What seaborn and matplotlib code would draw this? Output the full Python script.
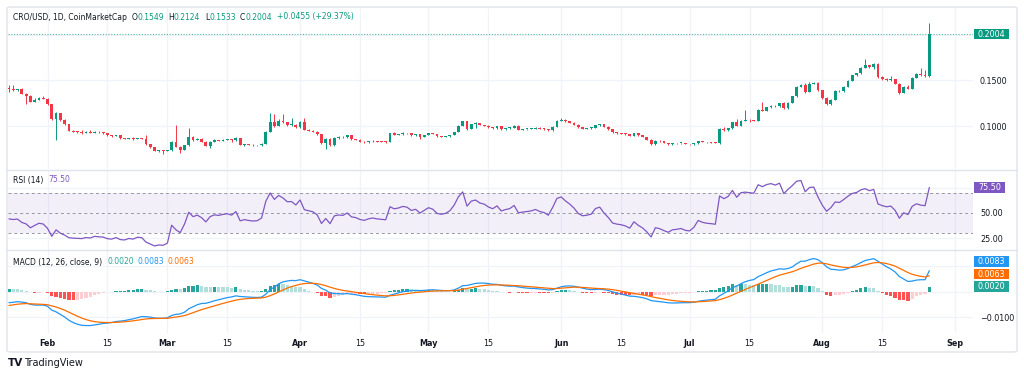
import numpy as np
import pandas as pd
import matplotlib
matplotlib.use("Agg")
import matplotlib.pyplot as plt
from matplotlib.patches import Rectangle, FancyBboxPatch
from matplotlib.lines import Line2D
import seaborn as sns

# CRO/USD daily candles, 23 Jan - 26 Aug 2025
START_DATE = "2025-01-23"
FIRST_OPEN = 0.1410
close = [
    0.1405, 0.1395, 0.1400, 0.1352, 0.1330, 0.1268, 0.1290, 0.1310, 0.1300, 0.1236,
    0.1078, 0.1140, 0.1066, 0.1020, 0.0950, 0.0940, 0.0935, 0.0928, 0.0936, 0.0927,
    0.0938, 0.0930, 0.0925, 0.0897, 0.0890, 0.0898, 0.0866, 0.0860, 0.0867, 0.0858,
    0.0866, 0.0862, 0.0800, 0.0768, 0.0730, 0.0734, 0.0728, 0.0736, 0.0820, 0.0772,
    0.0738, 0.0790, 0.0885, 0.0842, 0.0855, 0.0830, 0.0786, 0.0830, 0.0845, 0.0840,
    0.0848, 0.0853, 0.0842, 0.0868, 0.0792, 0.0800, 0.0793, 0.0788, 0.0790, 0.0805,
    0.0938, 0.1048, 0.1000, 0.1060, 0.1040, 0.1010, 0.1012, 0.0986, 0.1045, 0.0960,
    0.0950, 0.0940, 0.0910, 0.0812, 0.0858, 0.0790, 0.0870, 0.0880, 0.0875, 0.0900,
    0.0858, 0.0850, 0.0829, 0.0820, 0.0832, 0.0838, 0.0830, 0.0826, 0.0823, 0.0920,
    0.0905, 0.0912, 0.0925, 0.0920, 0.0900, 0.0908, 0.0885, 0.0902, 0.0920, 0.0912,
    0.0888, 0.0883, 0.0888, 0.0902, 0.0935, 0.1000, 0.1050, 0.0968, 0.1018, 0.1030,
    0.1011, 0.1004, 0.0986, 0.0975, 0.0997, 0.0965, 0.0975, 0.0982, 0.1004, 0.0960,
    0.0965, 0.0968, 0.0972, 0.0980, 0.0970, 0.0965, 0.0952, 0.0992, 0.1055, 0.1068,
    0.1050, 0.1035, 0.1015, 0.0985, 0.0972, 0.0975, 0.0980, 0.1010, 0.1018, 0.0990,
    0.0965, 0.0930, 0.0922, 0.0918, 0.0910, 0.0895, 0.0920, 0.0898, 0.0880, 0.0850,
    0.0800, 0.0840, 0.0832, 0.0815, 0.0800, 0.0810, 0.0812, 0.0815, 0.0802, 0.0798,
    0.0810, 0.0835, 0.0825, 0.0820, 0.0818, 0.0815, 0.0968, 0.0955, 0.0975, 0.1040,
    0.1005, 0.1058, 0.1065, 0.1062, 0.1060, 0.1178, 0.1168, 0.1205, 0.1222, 0.1215,
    0.1248, 0.1195, 0.1256, 0.1325, 0.1430, 0.1450, 0.1372, 0.1465, 0.1475, 0.1392,
    0.1310, 0.1238, 0.1290, 0.1384, 0.1378, 0.1430, 0.1495, 0.1555, 0.1575, 0.1638,
    0.1668, 0.1650, 0.1680, 0.1535, 0.1515, 0.1502, 0.1512, 0.1465, 0.1362, 0.1432,
    0.1408, 0.1528, 0.1571, 0.1555, 0.1549, 0.2004,
]
high = [
    0.1450, 0.1448, 0.1408, 0.1415, 0.1362, 0.1338, 0.1302, 0.1322, 0.1328, 0.1305,
    0.1240, 0.1152, 0.1146, 0.1072, 0.1025, 0.0958, 0.0948, 0.0955, 0.0945, 0.0952,
    0.0944, 0.0941, 0.0933, 0.0928, 0.0899, 0.0904, 0.0900, 0.0869, 0.0871, 0.0876,
    0.0870, 0.0868, 0.0900, 0.0803, 0.0772, 0.0741, 0.0740, 0.0742, 0.0832, 0.1010,
    0.0778, 0.0796, 0.0975, 0.0890, 0.0866, 0.0870, 0.0836, 0.0840, 0.0853, 0.0851,
    0.0856, 0.0858, 0.0856, 0.0880, 0.0872, 0.0806, 0.0803, 0.0798, 0.0795, 0.0810,
    0.0950, 0.1140, 0.1130, 0.1075, 0.1135, 0.1045, 0.1085, 0.1018, 0.1052, 0.1085,
    0.0965, 0.0955, 0.0944, 0.0915, 0.0872, 0.0868, 0.0876, 0.0886, 0.0888, 0.0906,
    0.0904, 0.0862, 0.0855, 0.0833, 0.0836, 0.0842, 0.0841, 0.0834, 0.0838, 0.0926,
    0.0932, 0.0917, 0.0930, 0.0928, 0.0924, 0.0912, 0.0910, 0.0906, 0.0925, 0.0924,
    0.0914, 0.0891, 0.0892, 0.0906, 0.0940, 0.1008, 0.1058, 0.1055, 0.1024, 0.1040,
    0.1034, 0.1015, 0.1006, 0.0990, 0.1002, 0.1000, 0.0979, 0.0986, 0.1010, 0.1008,
    0.0970, 0.0972, 0.0976, 0.0985, 0.0984, 0.0975, 0.0970, 0.0998, 0.1062, 0.1092,
    0.1072, 0.1054, 0.1040, 0.1020, 0.0990, 0.0980, 0.0984, 0.1015, 0.1022, 0.1021,
    0.0995, 0.0968, 0.0935, 0.0926, 0.0922, 0.0914, 0.0925, 0.0924, 0.0902, 0.0884,
    0.0855, 0.0846, 0.0848, 0.0836, 0.0818, 0.0814, 0.0816, 0.0818, 0.0817, 0.0806,
    0.0813, 0.0840, 0.0838, 0.0828, 0.0823, 0.0821, 0.0975, 0.0988, 0.0982, 0.1046,
    0.1078, 0.1064, 0.1170, 0.1075, 0.1070, 0.1185, 0.1260, 0.1212, 0.1228, 0.1230,
    0.1256, 0.1262, 0.1262, 0.1332, 0.1438, 0.1460, 0.1470, 0.1478, 0.1485, 0.1482,
    0.1398, 0.1315, 0.1298, 0.1392, 0.1395, 0.1436, 0.1502, 0.1562, 0.1582, 0.1645,
    0.1734, 0.1672, 0.1690, 0.1688, 0.1545, 0.1520, 0.1545, 0.1518, 0.1470, 0.1440,
    0.1445, 0.1535, 0.1580, 0.1630, 0.1610, 0.2124,
]
low = [
    0.1370, 0.1385, 0.1388, 0.1345, 0.1245, 0.1262, 0.1258, 0.1285, 0.1292, 0.1230,
    0.1062, 0.0845, 0.1055, 0.1010, 0.0944, 0.0930, 0.0926, 0.0918, 0.0924, 0.0920,
    0.0922, 0.0921, 0.0917, 0.0890, 0.0884, 0.0886, 0.0860, 0.0854, 0.0857, 0.0852,
    0.0855, 0.0857, 0.0795, 0.0760, 0.0724, 0.0721, 0.0690, 0.0724, 0.0730, 0.0766,
    0.0702, 0.0735, 0.0785, 0.0836, 0.0845, 0.0825, 0.0780, 0.0762, 0.0826, 0.0834,
    0.0838, 0.0843, 0.0826, 0.0840, 0.0788, 0.0786, 0.0788, 0.0782, 0.0784, 0.0786,
    0.0800, 0.0932, 0.0990, 0.0995, 0.1030, 0.1002, 0.1000, 0.0980, 0.0982, 0.0955,
    0.0944, 0.0932, 0.0905, 0.0800, 0.0750, 0.0785, 0.0782, 0.0862, 0.0868, 0.0870,
    0.0852, 0.0845, 0.0824, 0.0815, 0.0818, 0.0828, 0.0826, 0.0821, 0.0818, 0.0820,
    0.0900, 0.0898, 0.0906, 0.0915, 0.0896, 0.0895, 0.0858, 0.0880, 0.0898, 0.0908,
    0.0884, 0.0878, 0.0879, 0.0884, 0.0900, 0.0932, 0.0995, 0.0962, 0.0965, 0.0975,
    0.1006, 0.0999, 0.0980, 0.0970, 0.0972, 0.0960, 0.0962, 0.0970, 0.0978, 0.0955,
    0.0956, 0.0960, 0.0964, 0.0968, 0.0966, 0.0958, 0.0946, 0.0948, 0.0988, 0.1050,
    0.1044, 0.1030, 0.1010, 0.0980, 0.0966, 0.0968, 0.0970, 0.0976, 0.1005, 0.0985,
    0.0960, 0.0924, 0.0918, 0.0912, 0.0905, 0.0890, 0.0890, 0.0894, 0.0876, 0.0845,
    0.0790, 0.0796, 0.0828, 0.0810, 0.0796, 0.0797, 0.0806, 0.0808, 0.0798, 0.0794,
    0.0795, 0.0808, 0.0820, 0.0816, 0.0814, 0.0810, 0.0808, 0.0948, 0.0950, 0.0970,
    0.1000, 0.1002, 0.1050, 0.1045, 0.1050, 0.1055, 0.1160, 0.1165, 0.1200, 0.1205,
    0.1210, 0.1188, 0.1190, 0.1250, 0.1320, 0.1425, 0.1365, 0.1368, 0.1455, 0.1385,
    0.1300, 0.1230, 0.1225, 0.1285, 0.1370, 0.1372, 0.1425, 0.1490, 0.1550, 0.1570,
    0.1630, 0.1640, 0.1620, 0.1520, 0.1505, 0.1495, 0.1498, 0.1455, 0.1355, 0.1360,
    0.1400, 0.1405, 0.1520, 0.1548, 0.1540, 0.1533,
]

# indicator state carried in from before the visible window
RSI_GAIN0, RSI_LOSS0 = 0.0024, 0.0030
EMA12_0, EMA26_0, SIGNAL0 = 0.1414, 0.1460, -0.0057

# price-scale ticks: gridlines everywhere, labels only where no value tag sits on them
PRICE_GRID, PRICE_LABELS = [0.10, 0.15, 0.20], [0.10, 0.15]
RSI_GRID, RSI_LABELS = [25, 50, 75], [25, 50]
MACD_GRID, MACD_LABELS = [-0.01, 0.0, 0.01], [-0.01]

UP, DOWN = "#089981", "#F23645"
TXT = "#131722"
GRID = "#F0F3FA"
W, H = 1024, 377

df = pd.DataFrame({"date": pd.date_range(START_DATE, periods=len(close), freq="D"),
                   "close": close, "high": high, "low": low})
df["open"] = [FIRST_OPEN] + close[:-1]
df["x"] = np.arange(len(df))

# RSI (14), Wilder smoothing
g, l = RSI_GAIN0, RSI_LOSS0
rsi = []
for d in np.diff(np.r_[FIRST_OPEN, close]):
    g = (g * 13 + max(d, 0)) / 14
    l = (l * 13 + max(-d, 0)) / 14
    rsi.append(100 - 100 / (1 + g / l))
df["rsi"] = rsi

# MACD (12, 26, close, 9)
e12, e26, sig = EMA12_0, EMA26_0, SIGNAL0
macd, signal = [], []
for c in close:
    e12 += 2 / 13 * (c - e12)
    e26 += 2 / 27 * (c - e26)
    sig += 2 / 10 * ((e12 - e26) - sig)
    macd.append(e12 - e26)
    signal.append(sig)
df["macd"] = macd
df["signal"] = signal
df["hist"] = df["macd"] - df["signal"]

sns.set_theme(style="white")
plt.rcParams["font.family"] = ["DejaVu Sans"]
FS = 5.8      # price scale / dates
HFS = 5.5     # pane headers

fig = plt.figure(figsize=(W / 100, H / 100), dpi=100)
left, width = 8 / W, 965 / W
ax_p = fig.add_axes([left, 1 - 169 / H, width, 161 / H])
ax_r = fig.add_axes([left, 1 - 250 / H, width, 80 / H], sharex=ax_p)
ax_m = fig.add_axes([left, 1 - 333 / H, width, 83 / H], sharex=ax_p)

# date ticks on the 1st and 15th
tick_dates = [d for d in pd.date_range("2025-02-01", "2025-09-01") if d.day in (1, 15)]
tick_pos = [(d - df["date"].iloc[0]).days for d in tick_dates]
tick_lab = [d.strftime("%b") if d.day == 1 else "15" for d in tick_dates]


def scale(ax, grid, labels, fmt):
    for v in grid:
        ax.axhline(v, color=GRID, lw=0.9, zorder=0)
    ax.set_yticks(labels)
    ax.set_yticklabels([fmt(v) for v in labels])


for ax in (ax_p, ax_r, ax_m):
    for s in ax.spines.values():
        s.set_visible(False)
    ax.set_facecolor("none")
    ax.set_xticks(tick_pos)
    for p in tick_pos:
        ax.axvline(p, color=GRID, lw=0.9, zorder=0)
    ax.yaxis.tick_right()
    ax.tick_params(axis="y", length=0, pad=5, labelsize=FS, labelcolor=TXT)
    ax.tick_params(axis="x", length=0)
ax_p.set_xlim(-0.23, 225.2)

# price pane
up = df["close"] >= df["open"]
cols = np.where(up, UP, DOWN)
body_lo = df[["open", "close"]].min(axis=1)
body_h = (df["close"] - df["open"]).abs().clip(lower=0.0009)
ax_p.vlines(df["x"], df["low"], df["high"], colors=cols, lw=0.7, zorder=2)
ax_p.bar(df["x"], body_h, bottom=body_lo, width=0.66, color=cols, lw=0, zorder=3)
ax_p.set_ylim(0.0530, 0.2291)
scale(ax_p, PRICE_GRID, PRICE_LABELS, lambda v: f"{v:.4f}")
last = df.iloc[-1]
ax_p.axhline(last["close"], color=UP, lw=0.8, ls=(0, (1, 1.5)), alpha=0.7, zorder=1)

# RSI pane
ax_r.axhspan(30, 70, color="#7E57C2", alpha=0.09, lw=0, zorder=0)
for v in (30, 50, 70):
    ax_r.axhline(v, color="#9598A1", lw=0.7, ls=(0, (3, 3)), zorder=1)
sns.lineplot(data=df, x="x", y="rsi", ax=ax_r, color="#7E57C2", lw=0.9, zorder=3)
ax_r.set_ylim(13, 93)
scale(ax_r, RSI_GRID, RSI_LABELS, lambda v: f"{v:.2f}")

# MACD pane
prev = df["hist"].shift(1).fillna(0)
hcol = np.where(df["hist"] >= 0,
                np.where(prev < df["hist"], "#26A69A", "#B2DFDB"),
                np.where(prev < df["hist"], "#FFCDD2", "#FF5252"))
ax_m.bar(df["x"], df["hist"], width=0.75, color=hcol, lw=0, zorder=2)
sns.lineplot(data=df, x="x", y="macd", ax=ax_m, color="#2196F3", lw=0.9, zorder=3)
sns.lineplot(data=df, x="x", y="signal", ax=ax_m, color="#FF6D00", lw=0.9, zorder=3)
ax_m.set_ylim(-0.0163, 0.0165)
scale(ax_m, MACD_GRID, MACD_LABELS, lambda v: f"{v:.4f}".replace("-", "\u2212"))

for ax in (ax_p, ax_r, ax_m):
    ax.set_xlabel("")
    ax.set_ylabel("")
ax_m.set_xticklabels(tick_lab)
for t, lab in zip(ax_m.get_xticklabels(), tick_lab):
    t.set_fontweight("bold" if lab != "15" else "normal")
ax_m.tick_params(axis="x", labelsize=FS, labelcolor=TXT, pad=4)
plt.setp(ax_p.get_xticklabels(), visible=False)
plt.setp(ax_r.get_xticklabels(), visible=False)

# frame and pane separators
fig.patches.append(FancyBboxPatch((7 / W, 1 - 352 / H), 1010 / W, 345 / H,
                                  boxstyle="round,pad=0,rounding_size=0.004",
                                  transform=fig.transFigure, fc="none", ec="#E0E3EB", lw=1))
for yy in (169.5, 250):
    fig.lines.append(Line2D([7 / W, 1017 / W], [1 - yy / H] * 2, transform=fig.transFigure,
                            color="#E0E3EB", lw=1))

fig.canvas.draw()
rend = fig.canvas.get_renderer()


def row(pieces, x, y, size=HFS):
    for s, color in pieces:
        t = fig.text(x / W, 1 - y / H, s, color=color, fontsize=size, ha="left", va="center")
        x += t.get_window_extent(renderer=rend).width


def px_y(ax, v):
    return H - ax.transData.transform((0, v))[1]


def tag(s, yc, color, x0=974, x1=1009, h=10.5):
    fig.patches.append(Rectangle((x0 / W, 1 - (yc + h / 2) / H), (x1 - x0) / W, h / H,
                                 transform=fig.transFigure, fc=color, ec="none", zorder=5))
    fig.text((x0 + x1) / 2 / W, 1 - yc / H, s, color="white", fontsize=FS,
             ha="center", va="center", zorder=6)


chg = last["close"] - last["open"]
row([("CRO/USD, 1D, CoinMarketCap", TXT)], 13, 17)
row([("O", TXT), (f"{last['open']:.4f}", UP)], 132, 17)
row([("H", TXT), (f"{last['high']:.4f}", UP)], 168, 17)
row([("L", TXT), (f"{last['low']:.4f}", UP)], 205, 17)
row([("C", TXT), (f"{last['close']:.4f}", UP)], 240, 17)
row([(f"+{chg:.4f} (+{chg / last['open'] * 100:.2f}%)", UP)], 277, 17)

row([("RSI (14)", TXT)], 13, 180)
row([(f"{last['rsi']:.2f}", "#7E57C2")], 48, 180)
row([("MACD (12, 26, close, 9)", TXT)], 13, 262)
row([(f"{last['hist']:.4f}", "#26A69A")], 108, 262)
row([(f"{last['macd']:.4f}", "#2196F3")], 138, 262)
row([(f"{last['signal']:.4f}", "#FF6D00")], 168, 262)

tag(f"{last['close']:.4f}", px_y(ax_p, last["close"]), UP)
tag(f"{last['rsi']:.2f}", px_y(ax_r, last["rsi"]), "#7E57C2", x1=1005)
y_h = px_y(ax_m, last["hist"])
y_s = min(px_y(ax_m, last["signal"]), y_h - 12.5)
y_m = min(px_y(ax_m, last["macd"]), y_s - 12.5)
tag(f"{last['hist']:.4f}", y_h, "#26A69A")
tag(f"{last['signal']:.4f}", y_s, "#FF6D00")
tag(f"{last['macd']:.4f}", y_m, "#2196F3")

# TradingView mark
fig.text(8 / W, 1 - 363 / H, "TV", fontsize=7.5, fontweight="heavy", color=TXT, va="center")
fig.text(24 / W, 1 - 363 / H, "TradingView", fontsize=7, color=TXT, va="center")

fig.savefig("out.png", dpi=100)
